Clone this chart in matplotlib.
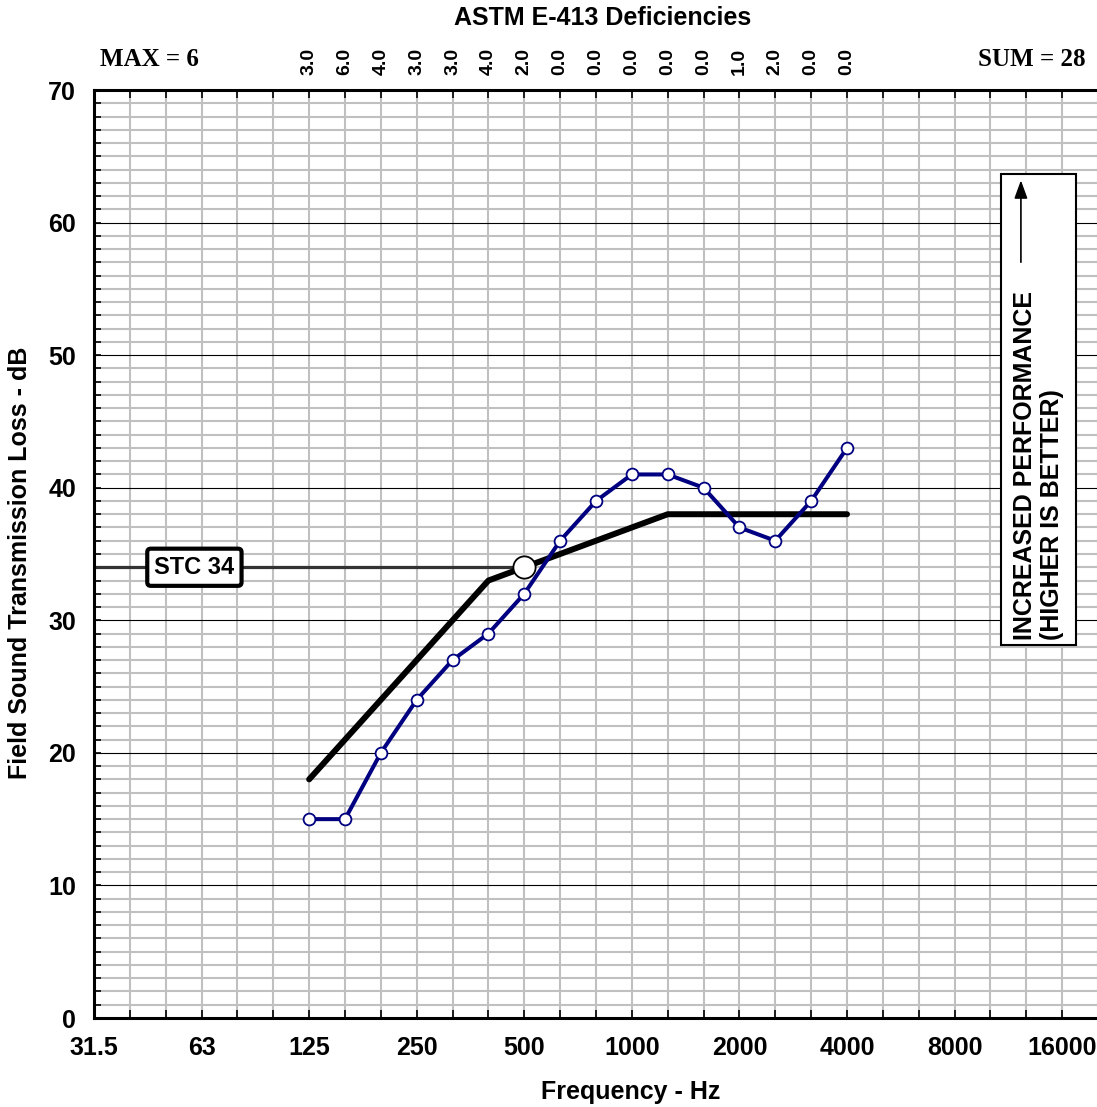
import matplotlib.pyplot as plt
from matplotlib.patches import Rectangle
import matplotlib.transforms as mtransforms

# 1/3 octave bands shown on the x axis
bands = ['31.5', '40', '50', '63', '80', '100', '125', '160', '200', '250', '315', '400',
         '500', '630', '800', '1000', '1250', '1600', '2000', '2500', '3150', '4000',
         '5000', '6300', '8000', '10000', '12500', '16000', '20000']
octave_labels = ['31.5', '63', '125', '250', '500', '1000', '2000', '4000', '8000', '16000']

# measured bands
meas_bands = ['125', '160', '200', '250', '315', '400', '500', '630', '800', '1000',
              '1250', '1600', '2000', '2500', '3150', '4000']
fstl = [15, 15, 20, 24, 27, 29, 32, 36, 39, 41, 41, 40, 37, 36, 39, 43]
stc_contour = [18, 21, 24, 27, 30, 33, 34, 35, 36, 37, 38, 38, 38, 38, 38, 38]
deficiencies = [3.0, 6.0, 4.0, 3.0, 3.0, 4.0, 2.0, 0.0, 0.0, 0.0, 0.0, 0.0, 1.0, 2.0, 0.0, 0.0]
stc = 34
max_def = 6
sum_def = 28

xi = [bands.index(b) for b in meas_bands]
x500 = bands.index('500')

plt.rcParams['font.family'] = ['Liberation Sans', 'DejaVu Sans']
plt.rcParams['font.weight'] = 'bold'

fig = plt.figure(figsize=(10.97, 11.07), dpi=100)
ax = fig.add_axes([94 / 1097, 89 / 1107, 1004 / 1097, 928 / 1107])

# grid
for i in range(1, len(bands)):
    ax.axvline(i, color='#c0c0c0', lw=1.5, zorder=1)
for v in range(1, 70):
    if v % 10 == 0:
        ax.axhline(v, color='black', lw=0.8, zorder=1.5)
    else:
        ax.axhline(v, color='#c0c0c0', lw=1.5, zorder=1)

# STC reference line + label
ax.plot([0, x500], [stc, stc], color='#333333', lw=2.3, zorder=2)
ax.text(2.8, stc, 'STC %d' % stc, fontsize=17, ha='center', va='center', zorder=6,
        bbox=dict(boxstyle='round,pad=0.3,rounding_size=0.15', fc='white', ec='black', lw=3))

# contour and measured data
ax.plot(xi, stc_contour, color='black', lw=4.3, solid_capstyle='round', zorder=3)
ax.plot(xi, fstl, color='#000080', lw=2.9, marker='o', ms=8.5, mfc='white', mec='#000080',
        mew=1.3, zorder=4)
ax.plot([x500], [stc], marker='o', ms=16, mfc='white', mec='black', mew=1.3, zorder=5)

# right annotation box
ax.add_patch(Rectangle((25.29, 28.1), 2.09, 35.6, fc='white', ec='black', lw=1.5, zorder=6))
ax.text(26.33, 28.5, 'INCREASED PERFORMANCE\n(HIGHER IS BETTER)', rotation=90, fontsize=18,
        ha='center', va='bottom', multialignment='left', linespacing=1.15, zorder=7)
ax.annotate('', xy=(25.85, 63.4), xytext=(25.85, 56.8), zorder=7,
            arrowprops=dict(arrowstyle='-|>,head_length=1.1,head_width=0.4', color='black', lw=1.2))

# axes
ax.set_xlim(0, 28)
ax.set_ylim(0, 70)
ax.set_xticks(range(len(bands)))
ax.set_xticklabels([b if b in octave_labels else '' for b in bands])
ax.set_yticks(range(0, 71, 10))
ax.set_yticks(range(0, 71), minor=True)
ax.tick_params(axis='x', direction='in', length=6, width=1.2, top=True, pad=13, labelsize=18)
ax.tick_params(axis='y', which='both', direction='in', length=5, width=1.2, pad=13, labelsize=18)
for s in ['left', 'bottom', 'top']:
    ax.spines[s].set_linewidth(2.2)
ax.spines['right'].set_visible(False)

# deficiencies row
trans = mtransforms.blended_transform_factory(ax.transData, ax.transAxes)
for x, d in zip(xi, deficiencies):
    ax.text(x, 1.016, '%.1f' % d, transform=trans, rotation=90, ha='center', va='bottom',
            fontsize=14)
ax.text(1.56, 1.02, 'MAX = %d' % max_def, transform=trans, ha='center', va='bottom',
        fontsize=18, family='Liberation Serif')
ax.text(26.16, 1.02, 'SUM = %d' % sum_def, transform=trans, ha='center', va='bottom',
        fontsize=18, family='Liberation Serif')

fig.text(603 / 1097, 1 - 18 / 1107, 'ASTM E-413 Deficiencies', ha='center', va='center', fontsize=18)
fig.text(631 / 1097, 1 - 1092 / 1107, 'Frequency - Hz', ha='center', va='center', fontsize=18)
fig.text(20 / 1097, 1 - 563 / 1107, 'Field Sound Transmission Loss - dB', rotation=90,
         ha='center', va='center', fontsize=18)

fig.savefig('out.png', dpi=100)
